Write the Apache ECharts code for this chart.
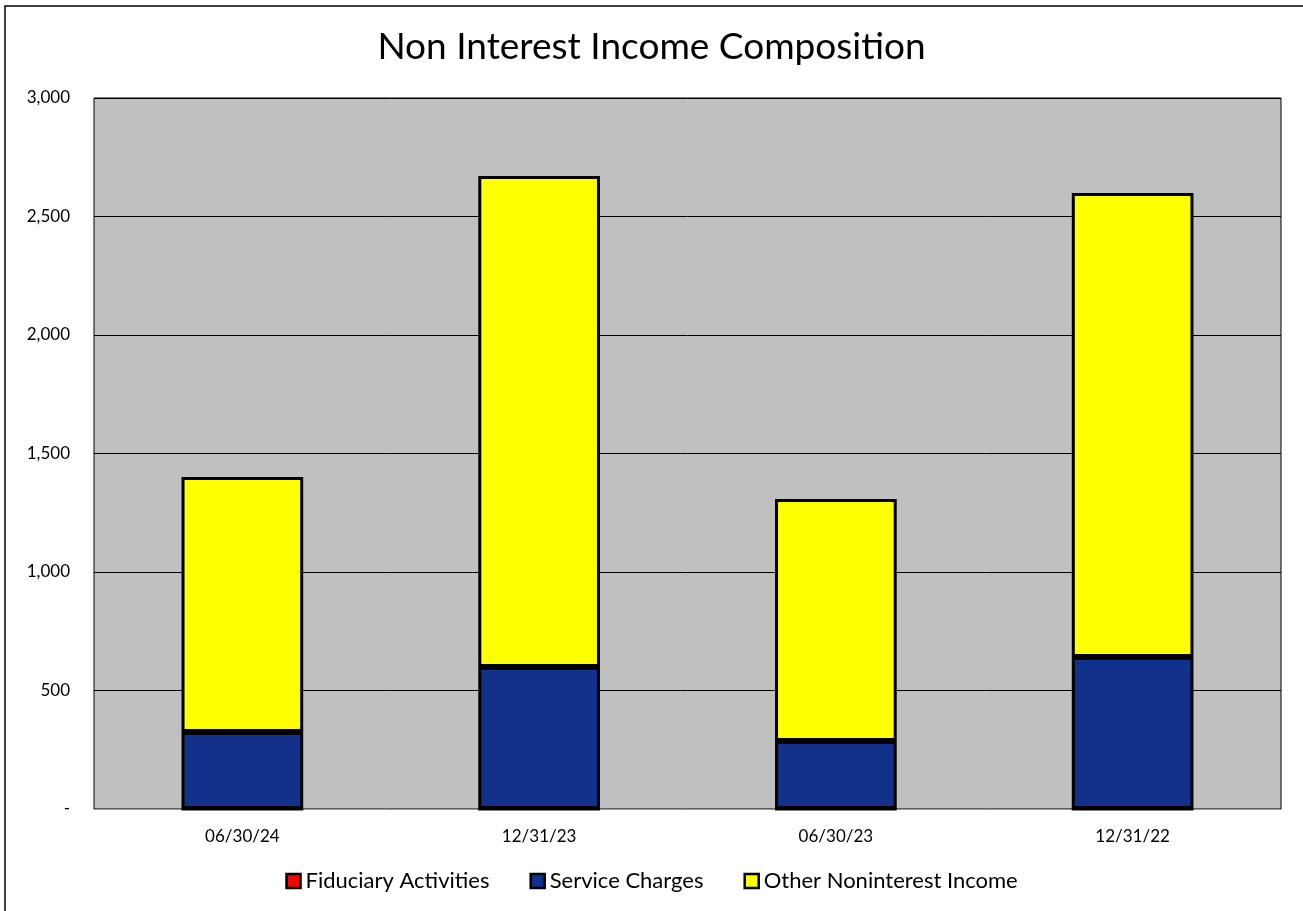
<!DOCTYPE html>
<html><head><meta charset="utf-8">
<script src="https://cdn.jsdelivr.net/npm/echarts@6/dist/echarts.min.js"></script>
<style>html,body{margin:0;padding:0;background:#fff;}#c{width:1303px;height:911px;}</style>
</head><body><div id="c"></div>
<script>
const categories = ['06/30/24', '12/31/23', '06/30/23', '12/31/22'];
const fiduciary = [0, 0, 0, 0];
const serviceCharges = [325, 599, 287, 641];
const otherIncome = [1076, 2072, 1021, 1958];
const yTicks = [0, 500, 1000, 1500, 2000, 2500, 3000];

const chart = echarts.init(document.getElementById('c'));
const font = 'Lato, "Open Sans", sans-serif';
const barStyle = c => ({color: c, borderColor: '#000', borderWidth: 3});
chart.setOption({
  animation: false,
  backgroundColor: '#fff',
  graphic: [{type: 'rect', shape: {x: 5, y: 6, width: 1400, height: 1000}, style: {fill: 'none', stroke: '#000', lineWidth: 1.5}, z: -1}],
  title: {text: 'Non Interest Income Composition', left: 'center', top: 24,
    textStyle: {fontFamily: font, fontSize: 37, fontWeight: 'normal', color: '#000'}},
  grid: {left: 94, right: 22, top: 98, bottom: 102, show: true, backgroundColor: '#c0c0c0', borderColor: '#000', borderWidth: 1},
  legend: {bottom: 14, left: 'center', itemWidth: 14, itemHeight: 14, itemGap: 40,
    icon: 'rect', textStyle: {fontFamily: font, fontSize: 22, color: '#000', padding: [0,0,0,0]},
    itemStyle: {borderColor: '#000', borderWidth: 2.5}},
  xAxis: {type: 'category', data: categories,
    axisLine: {lineStyle: {color: '#999'}}, axisTick: {show: false},
    axisLabel: {fontFamily: font, fontSize: 17, color: '#000', margin: 19}},
  yAxis: {type: 'value', min: 0, max: 3000, interval: 500,
    axisLine: {show: false}, axisTick: {show: false},
    splitLine: {lineStyle: {color: '#000', width: 1}},
    axisLabel: {fontFamily: font, fontSize: 17, color: '#000', margin: 24,
      formatter: v => yTicks.includes(v) ? (v === 0 ? '-' : v.toLocaleString('en-US')) : ''}},
  series: [
    {name: 'Fiduciary Activities', type: 'bar', stack: 'a', data: fiduciary, barWidth: '41%', itemStyle: barStyle('#ff0000')},
    {name: 'Service Charges', type: 'bar', stack: 'a', data: serviceCharges, barWidth: '41%', itemStyle: barStyle('#12318b')},
    {name: 'Other Noninterest Income', type: 'bar', stack: 'a', data: otherIncome, barWidth: '41%', itemStyle: barStyle('#ffff00')}
  ]
});
</script></body></html>
